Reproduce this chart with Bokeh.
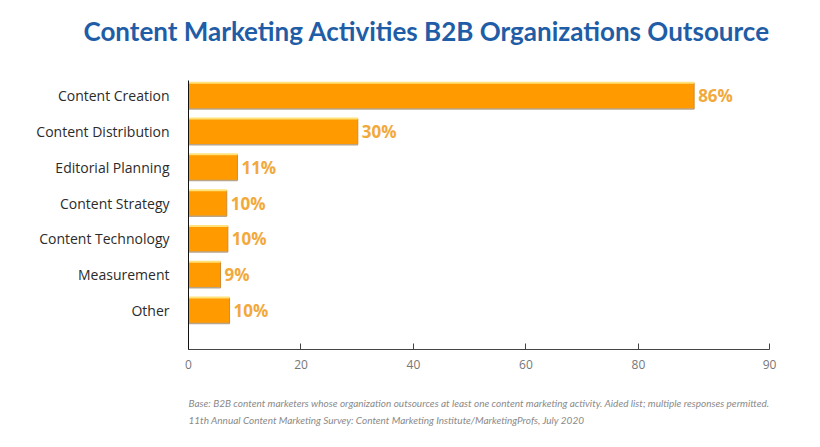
from bokeh.plotting import figure
from bokeh.models import FixedTicker, CustomJSTickFormatter, Range1d, Title, ColumnDataSource
from bokeh.core.properties import value
from bokeh.embed import file_html
from bokeh.resources import INLINE

# ---- data (top to bottom) ----
categories = ["Content Creation", "Content Distribution", "Editorial Planning",
              "Content Strategy", "Content Technology", "Measurement", "Other"]
bar_lengths = [89.9, 30.1, 8.7, 6.8, 7.0, 5.7, 7.3]   # as drawn against the axis
bar_labels = ["86%", "30%", "11%", "10%", "10%", "9%", "10%"]
x_tick_values = [0, 20, 40, 60, 80, 103.3]
x_tick_labels = ["0", "20", "40", "60", "80", "90"]

title_text = "Content Marketing Activities B2B Organizations Outsource"
note1 = ("Base: B2B content marketers whose organization outsources at least one content "
         "marketing activity. Aided list; multiple responses permitted.")
note2 = "11th Annual Content Marketing Survey: Content Marketing Institute/MarketingProfs, July 2020"

n = len(categories)
BAR_H = 0.73
ypos = [n - 1 - i for i in range(n)]
src = ColumnDataSource(dict(
    y=ypos, v=bar_lengths, lab=bar_labels, cat=categories, zero=[0] * n,
    ytop=[y + BAR_H / 2 for y in ypos], ybot=[y - BAR_H / 2 for y in ypos]))

p = figure(width=812, height=438, output_backend="svg", toolbar_location=None,
           title_location=None,
           x_range=Range1d(0, 103.3), y_range=Range1d(-1.09, n - 1 + 0.43),
           min_border_left=188, min_border_right=43, min_border_top=80, min_border_bottom=89)
p.outline_line_color = None
p.xgrid.grid_line_color = None
p.ygrid.grid_line_color = None
p.background_fill_color = "white"
p.border_fill_color = "white"

p.hbar(y="y", right="v", left=0, height=BAR_H, source=src,
       fill_color="#FF9A00", line_color=None)
# soft shadow on the bottom and right edges, light highlight on the top edge
p.segment(x0="zero", y0="ybot", x1="v", y1="ybot", source=src,
          line_color="#B9A58A", line_width=1.5)
p.segment(x0="v", y0="ybot", x1="v", y1="ytop", source=src,
          line_color="#D08A30", line_width=1)
p.segment(x0="zero", y0="ytop", x1="v", y1="ytop", source=src,
          line_color="#FFE27A", line_width=2)

p.text(x="v", y="y", text="lab", source=src, x_offset=4,
       text_baseline="middle", text_align="left",
       text_font=value("Open Sans"), text_font_style="bold",
       text_font_size="17px", text_color="#F2A93B")

# x axis
xa = p.xaxis[0]
xa.ticker = FixedTicker(ticks=x_tick_values)
xa.formatter = CustomJSTickFormatter(args=dict(labs=x_tick_labels),
                                     code="return labs[index];")
xa.axis_line_color = "#444444"
xa.major_tick_in = 6
xa.major_tick_out = 0
xa.major_tick_line_color = "#444444"
xa.minor_tick_line_color = None
xa.major_label_text_font = "Open Sans"
xa.major_label_text_font_size = "12px"
xa.major_label_text_color = "#777777"
xa.major_label_standoff = 10

# y axis
ya = p.yaxis[0]
ya.ticker = FixedTicker(ticks=ypos)
ya.formatter = CustomJSTickFormatter(args=dict(cats=categories, n=n),
                                     code="return cats[n - 1 - Math.round(tick)];")
ya.axis_line_color = "#111111"
ya.major_tick_line_color = None
ya.minor_tick_line_color = None
ya.major_label_text_font = "Open Sans"
ya.major_label_text_font_size = "14px"
ya.major_label_text_color = "#2B2B2B"
ya.major_label_standoff = 13

# title: spacer (nearest the frame) then the heading
p.add_layout(Title(text=" ", text_font_size="10px", standoff=19), "above")
p.add_layout(Title(text=title_text, align="left", offset=-105, text_font="Lato",
                   text_font_style="bold", text_font_size="26px", text_color="#1F5DA6",
                   standoff=4), "above")

# footnotes: spacer, then two lines
p.add_layout(Title(text=" ", text_font_size="10px", standoff=10), "below")
p.add_layout(Title(text=note1, align="left", text_font="Lato", text_font_style="italic",
                   text_font_size="10px", text_color="#8A8A8A", standoff=0), "below")
p.add_layout(Title(text=note2, align="left", text_font="Lato", text_font_style="italic",
                   text_font_size="10px", text_color="#8A8A8A", standoff=6), "below")

open("out.html", "w").write(file_html(p, INLINE))
